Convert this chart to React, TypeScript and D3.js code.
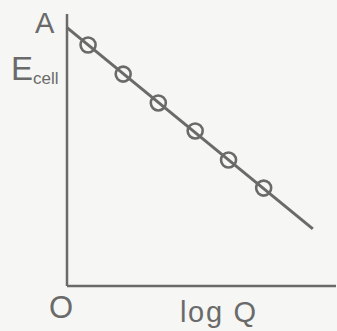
import React from "react";
import * as d3 from "d3";

const logQ = [0.6, 1.6, 2.6, 3.65, 4.6, 5.6];
const Ecell = [0.886, 0.779, 0.673, 0.57, 0.463, 0.36];
const fitLogQ = [0, 7.0];
const fitE = [0.95, 0.21];
const axisMax = { x: 7.66, y: 1.0 };

const W = 337;
const H = 331;

export default function App() {
  const x = d3.scaleLinear().domain([0, axisMax.x]).range([67, 336]);
  const y = d3.scaleLinear().domain([0, axisMax.y]).range([286, 14]);
  const line = d3
    .line<number>()
    .x((d) => x(d))
    .y((_, i) => y(fitE[i]));
  const grey = "#6a6a6a";
  const font = "'Liberation Sans', Arial, sans-serif";
  return (
    <svg
      width={W}
      height={H}
      style={{ position: "absolute", left: 0, top: 0, background: "#f6f6f4" }}
    >
      <line x1={x(0)} y1={y(axisMax.y)} x2={x(0)} y2={y(0)} stroke={grey} strokeWidth={2.5} />
      <line x1={x(0)} y1={y(0)} x2={x(axisMax.x)} y2={y(0)} stroke={grey} strokeWidth={2.5} />
      <path d={line(fitLogQ) || ""} stroke={grey} strokeWidth={3} fill="none" />
      {logQ.map((q, i) => (
        <circle key={i} cx={x(q)} cy={y(Ecell[i])} r={7.5} fill="none" stroke={grey} strokeWidth={2.6} />
      ))}
      <text x={35} y={33} fontFamily={font} fontSize={29} fill={grey}>A</text>
      <text x={11} y={80} fontFamily={font} fontSize={33} fill={grey}>E</text>
      <text x={33} y={84} fontFamily={font} fontSize={17} fill={grey}>cell</text>
      <text x={49} y={318} fontFamily={font} fontSize={31} fill={grey}>O</text>
      <text x={180} y={322} fontFamily={font} fontSize={29} fill={grey} textLength={76} lengthAdjust="spacing">log Q</text>
    </svg>
  );
}
